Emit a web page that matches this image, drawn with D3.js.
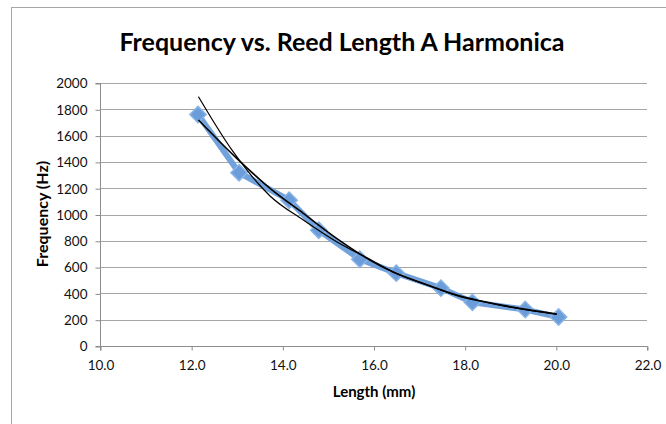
<!DOCTYPE html>
<html><head><meta charset="utf-8">
<script src="https://cdn.jsdelivr.net/npm/d3@7"></script>
<style>body{margin:0;background:#fff}svg{display:block}</style>
</head><body>
<svg id="c" width="666" height="424"></svg>
<script>
// Data
const lengths = [12.15, 13.05, 14.15, 14.8, 15.7, 16.5, 17.48, 18.17, 19.33, 20.06];
const freqs   = [1760, 1318, 1109, 880, 660, 554, 440, 332, 277, 220];
// Trendline points
const trendA_L = [12.16, 12.92, 13.73, 14.46, 15.19, 15.92, 16.43, 17.17, 17.90, 18.41, 19.14, 20.02];
const trendA_f = [1896, 1478, 1141, 958, 793, 659, 563, 464, 375, 337, 287, 241];
const trendB_L = [12.16, 13.0, 13.73, 14.46, 15.19, 15.92, 16.43, 17.17, 17.90, 18.41, 19.14, 20.02];
const trendB_f = [1719, 1427, 1199, 1009, 819, 654, 562, 466, 380, 339, 290, 243];
const xTicks = [10, 12, 14, 16, 18, 20, 22];
const yTicks = [0, 200, 400, 600, 800, 1000, 1200, 1400, 1600, 1800, 2000];
const title = "Frequency vs. Reed Length A Harmonica";
const xTitle = "Length (mm)";
const yTitle = "Frequency (Hz)";

const svg = d3.select("#c");
const font = "Lato, 'Open Sans', sans-serif";
const x = d3.scaleLinear().domain([10, 22]).range([100, 647]);
const y = d3.scaleLinear().domain([0, 2000]).range([346, 83]);

// outer border
svg.append("rect").attr("x", 11.5).attr("y", 7.5).attr("width", 700).attr("height", 500)
  .attr("fill", "none").attr("stroke", "#a6a6a6").attr("stroke-width", 1);

// title
svg.append("text").attr("x", 342).attr("y", 51).attr("text-anchor", "middle")
  .attr("font-family", font).attr("font-weight", "bold").attr("font-size", 25)
  .attr("fill", "#000").text(title);

// gridlines
svg.append("g").selectAll("line").data(yTicks.filter(d => d > 0)).join("line")
  .attr("x1", x(10)).attr("x2", x(22))
  .attr("y1", d => Math.round(y(d)) + 0.5).attr("y2", d => Math.round(y(d)) + 0.5)
  .attr("stroke", "#a6a6a6").attr("stroke-width", 1);

// axes
const yAxis = d3.axisLeft(y).tickValues(yTicks).tickSize(5).tickPadding(8).tickFormat(d3.format("d"));
const gy = svg.append("g").attr("transform", `translate(${x(10) + 0.5},0.5)`).call(yAxis);
const xAxis = d3.axisBottom(x).tickValues(xTicks).tickSize(4).tickPadding(10).tickFormat(d3.format(".1f"));
const gx = svg.append("g").attr("transform", `translate(0.5,${y(0) + 0.5})`).call(xAxis);
[gx, gy].forEach(g => {
  g.select(".domain").attr("stroke", "#8c8c8c");
  g.selectAll(".tick line").attr("stroke", "#8c8c8c");
  g.selectAll(".tick text").attr("font-family", font).attr("font-size", 13.5).attr("fill", "#111");
});
gx.select(".domain").attr("d", `M${x(10)},4V0H${x(22)}V4`);
gy.select(".domain").attr("d", `M-5,${y(2000)}H0V${y(0)}H-5`);

// axis titles
svg.append("text").attr("x", 374).attr("y", 397).attr("text-anchor", "middle")
  .attr("font-family", font).attr("font-weight", "bold").attr("font-size", 15).text(xTitle);
svg.append("text").attr("transform", "translate(48,214) rotate(-90)").attr("text-anchor", "middle")
  .attr("font-family", font).attr("font-weight", "bold").attr("font-size", 16).text(yTitle);

// data series
const pts = lengths.map((l, i) => [l, freqs[i]]);
const line = d3.line().x(d => x(d[0])).y(d => y(d[1]));
const blue = "#6a9dd9";
svg.append("path").datum(pts).attr("d", line).attr("fill", "none")
  .attr("stroke", blue).attr("stroke-width", 6).attr("stroke-linejoin", "round").attr("opacity", 0.95);
svg.append("g").selectAll("path").data(pts).join("path")
  .attr("d", d3.symbol(d3.symbolDiamond2, 170)())
  .attr("transform", d => `translate(${x(d[0])},${y(d[1])})`)
  .attr("fill", blue).attr("stroke", "#8ab4e6").attr("stroke-width", 1.5);

// trendlines
const curve = d3.line().x(d => x(d[0])).y(d => y(d[1])).curve(d3.curveMonotoneX);
const tA = trendA_L.map((l, i) => [l, trendA_f[i]]);
const tB = trendB_L.map((l, i) => [l, trendB_f[i]]);
svg.append("path").datum(tB).attr("d", curve).attr("fill", "none").attr("stroke", "#000").attr("stroke-width", 1.6);
svg.append("path").datum(tA).attr("d", curve).attr("fill", "none").attr("stroke", "#000").attr("stroke-width", 1.2);
</script>
</body></html>
